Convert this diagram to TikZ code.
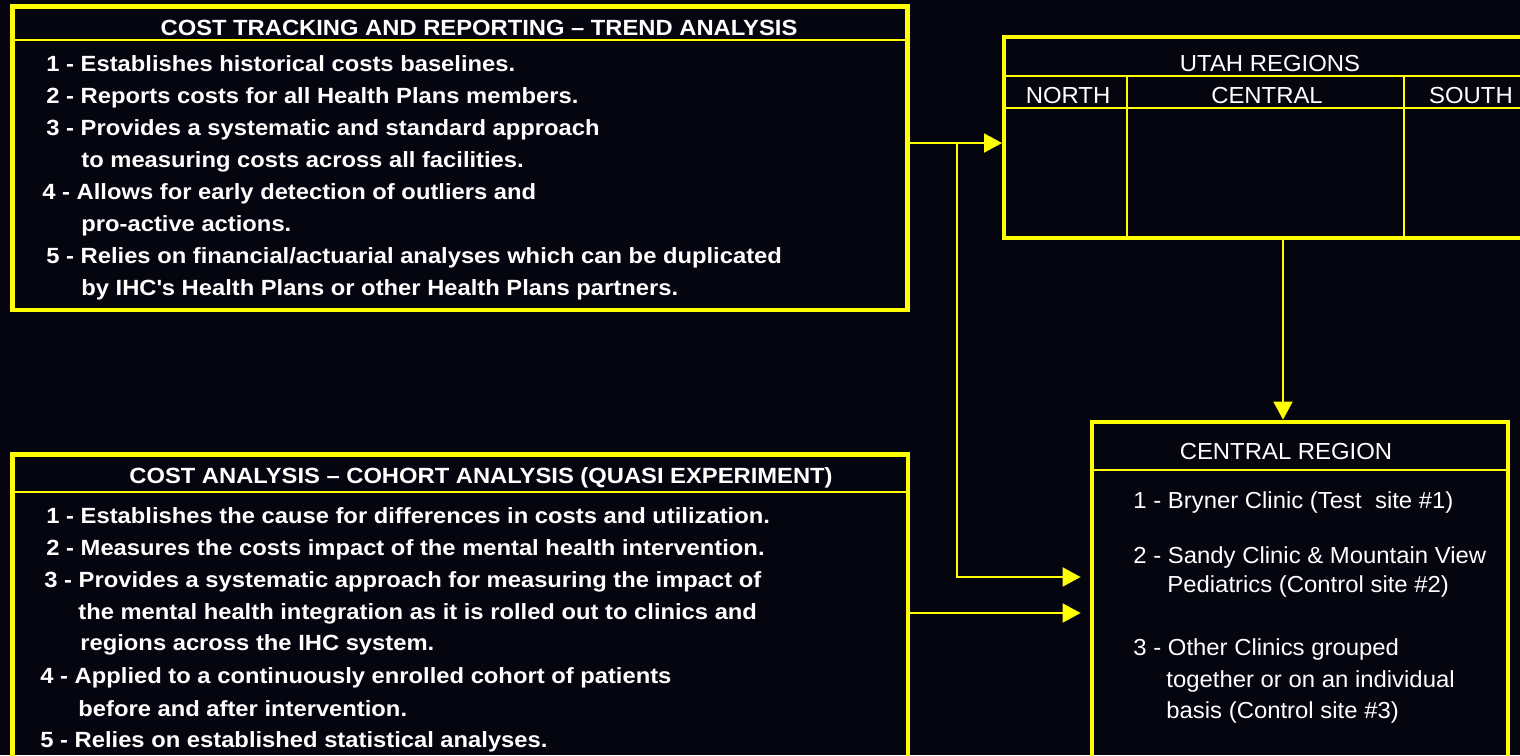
\documentclass[tikz,border=0pt]{standalone}
\usepackage{fontspec}
\setmainfont{Liberation Sans}[FakeStretch=1.03]
\newfontfamily\wideboldfont{Liberation Sans}[FakeStretch=1.08]
\usetikzlibrary{arrows.meta, fit}
\definecolor{bgnavy}{RGB}{5,5,15}
\definecolor{ihcyellow}{RGB}{255,255,0}

\begin{document}
\begin{tikzpicture}[x=0.5pt, y=-0.5pt,
    box/.style={draw=ihcyellow, line width=2.4pt, inner sep=0pt},
    divider/.style={draw=ihcyellow, line width=1pt},
    conn/.style={draw=ihcyellow, line width=1pt, -{Triangle[length=9pt, width=9.5pt]}},
    bolditem/.style={text=white, anchor=base west, inner sep=0pt, font=\wideboldfont\bfseries\fontsize{11}{13}\selectfont},
    boldhead/.style={bolditem, anchor=base},
    plainitem/.style={text=white, anchor=base west, inner sep=0pt, font=\fontsize{11.6}{14}\selectfont},
    plainhead/.style={plainitem, anchor=base}]
    % Background
    \useasboundingbox (0,0) rectangle (1520,755);
    \fill[bgnavy] (0,0) rectangle (1520,755);

    % Trend analysis box
    \node[box, fit={(12.5,6.5) (907.5,310)}] (trend) {};
    \draw[divider] (trend.west |- 0,40) -- (trend.east |- 0,40);
    \node[boldhead] (trendhd) at (479,35) {COST TRACKING AND REPORTING – TREND ANALYSIS};
    \foreach \n/\x/\y/\t in {trend1/46/71.5/{1 - Establishes historical costs baselines.},
        trend2/46/103.5/{2 - Reports costs for all Health Plans members.},
        trend3/46/135.5/{3 - Provides a systematic and standard approach},
        trend4/81/167.5/{to measuring costs across all facilities.},
        trend5/42/199.5/{4 - Allows for early detection of outliers and},
        trend6/81/231.5/{pro-active actions.},
        trend7/46/263.5/{5 - Relies on financial/actuarial analyses which can be duplicated},
        trend8/81/295.5/{by IHC\textquotesingle s Health Plans or other Health Plans partners.}} {
        \node[bolditem] (\n) at (\x,\y) {\t};
    }

    % Cohort analysis box
    \node[box, fit={(12.5,454.5) (908,780)}] (cohort) {};
    \draw[divider] (cohort.west |- 0,492) -- (cohort.east |- 0,492);
    \node[boldhead] (cohorthd) at (481,483) {COST ANALYSIS – COHORT ANALYSIS (QUASI EXPERIMENT)};
    \foreach \n/\x/\y/\t in {cohort1/46/523/{1 - Establishes the cause for differences in costs and utilization.},
        cohort2/46/555/{2 - Measures the costs impact of the mental health intervention.},
        cohort3/44/587/{3 - Provides a systematic approach for measuring the impact of},
        cohort4/78/619/{the mental health integration as it is rolled out to clinics and},
        cohort5/80/650.5/{regions across the IHC system.},
        cohort6/40/683.5/{4 - Applied to a continuously enrolled cohort of patients},
        cohort7/78/716/{before and after intervention.},
        cohort8/40/747.5/{5 - Relies on established statistical analyses.}} {
        \node[bolditem] (\n) at (\x,\y) {\t};
    }

    % Utah regions table
    \node[box, line width=2pt, fit={(1004,37) (1537,238)}] (utah) {};
    \draw[divider] (utah.west |- 0,76) -- (utah.east |- 0,76);
    \draw[divider] (utah.west |- 0,108) -- (utah.east |- 0,108);
    \draw[divider] (1127,76) -- (1127,76 |- utah.south);
    \draw[divider] (1404,76) -- (1404,76 |- utah.south);
    \node[plainhead] (utahhd) at (1270,71) {UTAH REGIONS};
    \node[plainhead] (north) at (1068,103) {NORTH};
    \node[plainhead] (central) at (1267,103) {CENTRAL};
    \node[plainhead] (south) at (1471,103) {SOUTH};

    % Central region box
    \node[box, fit={(1092,422) (1508,780)}] (cent) {};
    \draw[divider] (cent.west |- 0,470) -- (cent.east |- 0,470);
    \node[plainhead] (centhd) at (1286,459) {CENTRAL REGION};
    \foreach \n/\x/\y/\t in {site1/1133/508/{1 - Bryner Clinic (Test\ \ site \#1)},
        site2/1133/563/{2 - Sandy Clinic \& Mountain View},
        site3/1167/592/{Pediatrics (Control site \#2)},
        site4/1133/655/{3 - Other Clinics grouped},
        site5/1166/687/{together or on an individual},
        site6/1166/718/{basis (Control site \#3)}} {
        \node[plainitem] (\n) at (\x,\y) {\t};
    }

    % Connectors
    \coordinate (split) at (957,143);
    \coordinate (lowin) at (957,577);
    \coordinate (cohortout) at (0,613);
    \coordinate (drop) at (1283,0);
    \draw[conn] (trend.east |- split) -- (utah.west |- split);
    \draw[conn, shorten >=4.5pt] (split) -- (lowin) -- (cent.west |- lowin);
    \draw[conn, shorten >=4.5pt] (cohort.east |- cohortout) -- (cent.west |- cohortout);
    \draw[conn] (utah.south -| drop) -- (cent.north -| drop);
\end{tikzpicture}
\end{document}
